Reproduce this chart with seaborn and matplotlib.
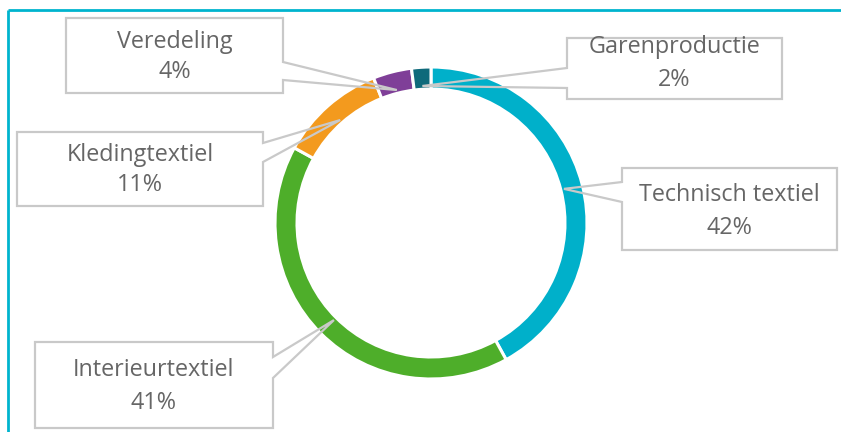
import matplotlib
matplotlib.use("Agg")
import matplotlib.pyplot as plt
import seaborn as sns
import numpy as np
from matplotlib.patches import Polygon

# ---- data ----
categories = ["Technisch textiel", "Interieurtextiel", "Kledingtextiel", "Veredeling", "Garenproductie"]
shares = [42, 41, 11, 4, 2]
colors = ["#00B0CA", "#4EAE2A", "#F39A1E", "#7F3F98", "#0F6A7B"]

# ---- layout (pixel space, y downward) ----
W, H = 841, 432
center = (431, 223)
radius = 156
ring = 22
# box: x0, y0, x1, y1, side of pointer, pointer base ya, yb, line1 y, line2 y
boxes = {
    "Technisch textiel": (622, 168, 837, 250, "left", 182, 202, 195, 228),
    "Interieurtextiel": (35, 342, 273, 428, "right", 357, 378, 370, 403),
    "Kledingtextiel": (17, 132, 263, 206, "right", 143, 162, 155, 185),
    "Veredeling": (66, 18, 283, 93, "right", 62, 80, 42, 72),
    "Garenproductie": (567, 38, 782, 99, "left", 68, 88, 47, 80),
}

sns.set_theme(style="white")
plt.rcParams["font.family"] = ["Open Sans", "DejaVu Sans"]

fig = plt.figure(figsize=(W / 100, H / 100), dpi=100)
ax = fig.add_axes([0, 0, 1, 1])

wedges, _ = ax.pie(shares, colors=colors, startangle=-90, counterclock=True,
                   center=center, radius=radius,
                   wedgeprops=dict(width=ring, edgecolor="white", linewidth=2.2))
ax.set_xlim(0, W)
ax.set_ylim(H, 0)
ax.set_aspect("equal")
ax.axis("off")

edge = "#C9C9C9"
tcol = "#666666"
fs = 16.8
for w, cat, val in zip(wedges, categories, shares):
    mid = np.deg2rad((w.theta1 + w.theta2) / 2)
    r = radius * 0.88
    tip = (center[0] + r * np.cos(mid), center[1] + r * np.sin(mid))
    x0, y0, x1, y1, side, ya, yb, l1, l2 = boxes[cat]
    if side == "right":
        pts = [(x0, y0), (x1, y0), (x1, ya), tip, (x1, yb), (x1, y1), (x0, y1)]
    else:
        pts = [(x0, y0), (x1, y0), (x1, y1), (x0, y1), (x0, yb), tip, (x0, ya)]
    ax.add_patch(Polygon(pts, closed=True, fill=False, edgecolor=edge,
                         linewidth=1.6, zorder=5))
    cx = (x0 + x1) / 2
    ax.text(cx, l1, cat, ha="center", va="center", fontsize=fs, color=tcol, zorder=6)
    ax.text(cx, l2, f"{val}%", ha="center", va="center", fontsize=fs, color=tcol, zorder=6)

# frame border (top and left visible)
ax.plot([8, W + 5], [10, 10], color="#00B4CE", linewidth=2, solid_capstyle="butt", zorder=7)
ax.plot([8, 8], [10, H + 5], color="#00B4CE", linewidth=2, solid_capstyle="butt", zorder=7)

fig.savefig("out.png", dpi=100)
